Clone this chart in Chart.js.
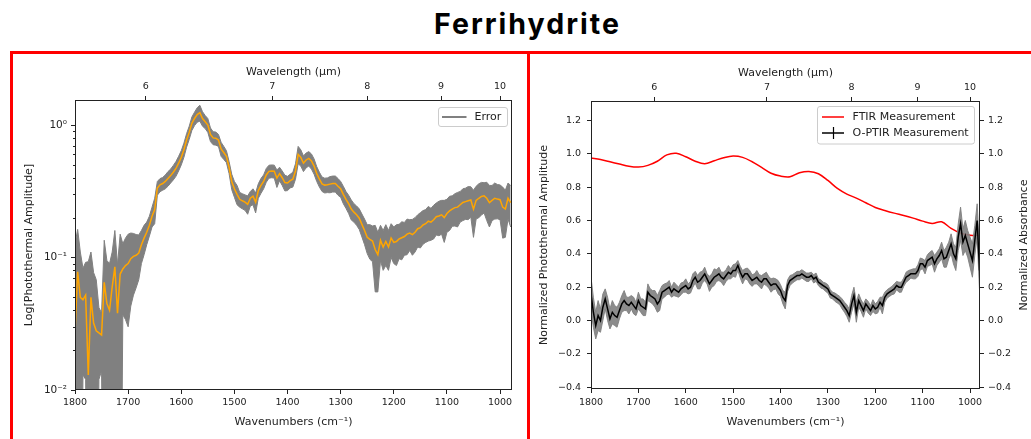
<!DOCTYPE html>
<html><head><meta charset="utf-8">
<script src="https://cdn.jsdelivr.net/npm/chart.js@4.4.1/dist/chart.umd.min.js"></script>
<style>
html,body{margin:0;padding:0;background:#fff;}
body{width:1031px;height:439px;position:relative;overflow:hidden;}
#title{position:absolute;left:12px;width:1031px;top:10px;text-align:center;font-family:Inter,'Noto Sans',sans-serif;font-weight:700;font-size:28.5px;line-height:28.5px;letter-spacing:2px;color:#000;}
canvas{position:absolute;top:0;}
.red{position:absolute;background:#ff0000;z-index:5;}
</style></head>
<body>
<div id="title">Ferrihydrite</div>
<canvas id="c1" width="525" height="439" style="left:0"></canvas>
<canvas id="c2" width="506" height="439" style="left:525px"></canvas>
<div class="red" style="left:10px;top:51px;width:1021px;height:3px"></div>
<div class="red" style="left:10px;top:51px;width:3px;height:388px"></div>
<div class="red" style="left:527px;top:51px;width:3px;height:388px"></div>
<script>
// ---------- DATA ----------
const wavenumbers = [
1800,1795,1790,1785,1780,1775,1770,1765,1760,1755,
1750,1745,1740,1735,1730,1725,1720,1715,1710,1705,
1700,1695,1690,1685,1680,1675,1670,1665,1660,1655,
1650,1645,1640,1635,1630,1625,1620,1615,1610,1605,
1600,1595,1590,1585,1580,1575,1570,1565,1560,1555,
1550,1545,1540,1535,1530,1525,1520,1515,1510,1505,
1500,1495,1490,1485,1480,1475,1470,1465,1460,1455,
1450,1445,1440,1435,1430,1425,1420,1415,1410,1405,
1400,1395,1390,1385,1380,1375,1370,1365,1360,1355,
1350,1345,1340,1335,1330,1325,1320,1315,1310,1305,
1300,1295,1290,1285,1280,1275,1270,1265,1260,1255,
1250,1245,1240,1235,1230,1225,1220,1215,1210,1205,
1200,1195,1190,1185,1180,1175,1170,1165,1160,1155,
1150,1145,1140,1135,1130,1125,1120,1115,1110,1105,
1100,1095,1090,1085,1080,1075,1070,1065,1060,1055,
1050,1045,1040,1035,1030,1025,1020,1015,1010,1005,
1000,995,990,985,980];

// Left panel: photothermal amplitude (log axis) and its error
const photothermalAmp = [
.027,.078,.050,.048,.052,.013,.050,.032,.028,.027,
.026,.065,.045,.040,.060,.085,.038,.075,.082,.087,
.090,.098,.102,.104,.108,.125,.140,.155,.175,.205,
.230,.335,.354,.362,.375,.395,.415,.440,.470,.515,
.570,.650,.770,.880,1.03,1.12,1.20,1.24,1.12,1.06,
1.00,.850,.800,.795,.770,.660,.620,.580,.480,.375,
.330,.300,.275,.268,.262,.252,.280,.290,.262,.320,
.350,.375,.420,.447,.450,.448,.398,.430,.400,.368,
.365,.380,.390,.450,.600,.570,.515,.545,.560,.535,
.490,.430,.390,.360,.352,.354,.358,.362,.362,.345,
.330,.300,.275,.255,.232,.220,.210,.198,.178,.160,
.142,.137,.133,.115,.105,.135,.120,.132,.120,.140,
.130,.132,.138,.141,.144,.150,.153,.149,.155,.165,
.168,.176,.180,.188,.185,.193,.203,.206,.210,.200,
.215,.225,.232,.238,.240,.250,.260,.264,.268,.272,
.232,.270,.280,.289,.292,.280,.260,.270,.280,.276,
.273,.240,.232,.280,.260];
const photothermalErr = [
.10,.085,.06,.035,.04,.08,.06,.045,.04,.015,
.012,.07,.05,.05,.05,.075,.05,.075,.045,.053,
.06,.055,.05,.045,.04,.035,.035,.03,.03,.035,
.05,.04,.04,.04,.045,.05,.05,.055,.06,.065,
.07,.08,.09,.10,.12,.13,.15,.17,.14,.12,
.12,.10,.09,.09,.08,.08,.07,.06,.05,.05,
.045,.05,.035,.035,.035,.04,.035,.04,.045,.04,
.045,.045,.05,.05,.05,.05,.06,.05,.05,.05,
.045,.045,.05,.06,.09,.08,.07,.07,.07,.07,
.065,.055,.05,.045,.045,.045,.05,.05,.05,.05,
.045,.045,.04,.04,.04,.035,.035,.035,.035,.035,
.035,.04,.04,.06,.05,.04,.04,.045,.04,.04,
.04,.045,.04,.045,.04,.045,.04,.045,.045,.045,
.05,.05,.05,.055,.05,.055,.055,.06,.06,.07,
.06,.065,.06,.065,.07,.065,.07,.07,.075,.07,
.09,.075,.08,.08,.075,.09,.09,.08,.085,.08,
.08,.10,.09,.085,.09];

// Right panel: O-PTIR measurement and its error
const optirValues = [
.16,.05,-.03,.03,.00,.08,.13,.07,.01,.05,
.03,.02,.06,.10,.12,.10,.09,.11,.09,.07,
.12,.09,.08,.07,.17,.15,.14,.13,.10,.12,
.17,.18,.19,.20,.17,.19,.18,.17,.19,.20,
.21,.19,.20,.24,.26,.23,.24,.26,.28,.25,
.22,.24,.26,.27,.28,.26,.25,.27,.29,.28,
.30,.30,.33,.29,.26,.28,.28,.26,.24,.25,
.26,.24,.23,.25,.25,.23,.21,.22,.22,.20,
.18,.14,.12,.21,.24,.25,.26,.27,.27,.28,
.27,.26,.26,.27,.25,.26,.23,.22,.21,.20,
.19,.16,.15,.14,.13,.12,.10,.08,.06,.03,
.10,.15,.05,.12,.09,.06,.10,.08,.06,.09,
.07,.08,.11,.09,.14,.16,.17,.18,.19,.21,
.20,.20,.23,.26,.27,.28,.28,.28,.30,.34,
.34,.32,.36,.37,.38,.34,.37,.39,.42,.37,
.38,.42,.46,.40,.37,.50,.58,.47,.51,.46,
.41,.36,.48,.60,.30];
const optirErr = [
.10,.09,.08,.09,.07,.08,.06,.07,.06,.07,
.06,.06,.05,.05,.06,.04,.05,.04,.05,.04,
.05,.04,.05,.04,.05,.04,.04,.05,.05,.06,
.04,.04,.035,.04,.03,.04,.035,.03,.035,.03,
.04,.03,.035,.04,.035,.04,.05,.035,.04,.03,
.045,.04,.05,.035,.04,.03,.04,.035,.04,.03,
.035,.04,.03,.035,.04,.03,.035,.04,.035,.03,
.04,.035,.04,.03,.04,.035,.04,.035,.03,.04,
.035,.04,.05,.035,.03,.025,.025,.025,.025,.025,
.025,.025,.025,.02,.025,.025,.02,.025,.02,.025,
.025,.025,.02,.025,.025,.025,.03,.03,.035,.04,
.05,.05,.06,.04,.035,.04,.03,.035,.03,.035,
.03,.035,.03,.05,.03,.025,.025,.025,.03,.025,
.03,.03,.025,.03,.03,.025,.03,.03,.035,.035,
.03,.04,.035,.04,.04,.05,.04,.04,.05,.05,
.06,.05,.06,.06,.07,.08,.10,.08,.09,.08,
.09,.10,.09,.10,.12];

// Right panel: FTIR measurement
const ftirWavenumbers = [1800,1780,1760,1740,1720,1700,1680,1660,1640,1620,1600,1580,1560,1540,1520,1500,1480,1460,1440,1420,1400,1380,1360,1340,1320,1300,1280,1260,1240,1220,1200,1180,1160,1140,1120,1100,1080,1060,1040,1020,1000,980];
const ftirValues = [.974,.965,.952,.938,.925,.920,.930,.955,.993,1.003,.982,.955,.940,.958,.976,.986,.978,.952,.918,.883,.866,.862,.886,.894,.880,.840,.792,.758,.734,.706,.678,.660,.644,.630,.614,.596,.582,.592,.552,.524,.512,.510];

// Ticks
const wavenumberTicks = [1800,1700,1600,1500,1400,1300,1200,1100,1000];
const wavelengthTicks = [6,7,8,9,10];
const logMajorTicks = [0.01,0.1,1];
const logMinorTicks = [0.02,0.03,0.04,0.05,0.06,0.07,0.08,0.09,0.2,0.3,0.4,0.5,0.6,0.7,0.8,0.9];
const logTickLabels = {'0.01':'10⁻²','0.1':'10⁻¹','1':'10⁰'};
const linearTicks = [-0.4,-0.2,0,0.2,0.4,0.6,0.8,1.0,1.2];

// ---------- RENDERING ----------
Chart.defaults.font.family = "'DejaVu Sans'";
Chart.defaults.font.size = 11;
Chart.defaults.color = '#222';
const TICKFONT = {family:"'DejaVu Sans'", size:9.5};
const LABELFONT = {family:"'DejaVu Sans'", size:11};
const INK = '#222';

const pts = (xs, ys) => xs.map((x,i)=>({x, y: ys[i]}));
const tickGrid = {display:true, drawOnChartArea:false, drawTicks:true, tickLength:4, tickColor:INK, tickWidth:1};
const fmtLin = v => (v < -1e-9 ? '−' : '') + Math.abs(v).toFixed(1);

const framePlugin = {
  id:'framePlugin',
  afterDatasetsDraw(chart, args, opts){
    const {ctx, chartArea:a} = chart;
    ctx.save();
    ctx.strokeStyle = INK; ctx.lineWidth = 1;
    if (opts.minor){
      const s = chart.scales[opts.minor.axis];
      opts.minor.values.forEach(v=>{
        const py = Math.round(s.getPixelForValue(v)) + 0.5;
        ctx.beginPath(); ctx.moveTo(a.left, py); ctx.lineTo(a.left - opts.minor.len, py); ctx.stroke();
      });
    }
    ctx.strokeRect(Math.round(a.left)+0.5, Math.round(a.top)+0.5, Math.round(a.right-a.left)-1, Math.round(a.bottom-a.top)-1);
    if (opts.rightTitle){
      ctx.save();
      ctx.translate(chart.width - opts.rightTitle.inset, (a.top + a.bottom)/2);
      ctx.rotate(-Math.PI/2);
      ctx.fillStyle = INK; ctx.font = "11px 'DejaVu Sans'"; ctx.textAlign = 'center'; ctx.textBaseline = 'middle';
      ctx.fillText(opts.rightTitle.text, 0, 0);
      ctx.restore();
    }
    ctx.restore();
  }
};

const mplLegend = {
  id:'mplLegend',
  afterDraw(chart, args, o){
    if (!o.items) return;
    const {ctx, chartArea:a} = chart;
    const x = Math.round(a.right - o.rightGap - o.width) + 0.5;
    const y = Math.round(a.top + o.topGap) + 0.5;
    ctx.save();
    const r = 2.5, w = o.width, h = o.height;
    ctx.beginPath();
    ctx.moveTo(x+r, y); ctx.lineTo(x+w-r, y); ctx.quadraticCurveTo(x+w, y, x+w, y+r);
    ctx.lineTo(x+w, y+h-r); ctx.quadraticCurveTo(x+w, y+h, x+w-r, y+h);
    ctx.lineTo(x+r, y+h); ctx.quadraticCurveTo(x, y+h, x, y+h-r);
    ctx.lineTo(x, y+r); ctx.quadraticCurveTo(x, y, x+r, y); ctx.closePath();
    ctx.fillStyle = 'rgba(255,255,255,0.8)'; ctx.fill();
    ctx.strokeStyle = '#cccccc'; ctx.lineWidth = 1; ctx.stroke();
    o.items.forEach((it, i)=>{
      const cy = Math.round(y + o.firstRow + i*o.rowH);
      ctx.strokeStyle = it.color; ctx.lineWidth = it.lw;
      ctx.beginPath(); ctx.moveTo(x + o.lineX0, cy); ctx.lineTo(x + o.lineX1, cy); ctx.stroke();
      if (it.bar){
        const mx = Math.round(x + (o.lineX0 + o.lineX1)/2) + 0.5;
        ctx.lineWidth = 1.2;
        ctx.beginPath(); ctx.moveTo(mx, cy - 6); ctx.lineTo(mx, cy + 6); ctx.stroke();
      }
      ctx.fillStyle = INK; ctx.font = "11px 'DejaVu Sans'"; ctx.textBaseline = 'middle'; ctx.textAlign = 'left';
      ctx.fillText(it.text, x + o.textX, cy + 0.5);
    });
    ctx.restore();
  }
};

// ----- Left chart -----
const leftLower = wavenumbers.map((x,i)=>({x, y: Math.max(photothermalAmp[i]-photothermalErr[i], 1e-4)}));
const leftUpper = wavenumbers.map((x,i)=>({x, y: photothermalAmp[i]+photothermalErr[i]}));
const L_XMIN = 977.5, L_XMAX = 1800;

new Chart(document.getElementById('c1'), {
  type:'line',
  data:{datasets:[
    {label:'mean', data: pts(wavenumbers, photothermalAmp), borderColor:'#ffa500', borderWidth:1.5, pointRadius:0, fill:false},
    {label:'lower', data: leftLower, borderColor:'#808080', borderWidth:1, pointRadius:0, fill:false},
    {label:'Error', data: leftUpper, borderColor:'#808080', borderWidth:1, backgroundColor:'#808080', pointRadius:0, fill:'-1'}
  ]},
  plugins:[framePlugin, mplLegend],
  options:{
    responsive:false, animation:false, devicePixelRatio:1,
    layout:{padding:{left:0, top:0, right:13, bottom:0}},
    elements:{line:{tension:0}},
    plugins:{
      legend:{display:false}, tooltip:{enabled:false},
      framePlugin:{minor:{axis:'y', values:logMinorTicks, len:2}},
      mplLegend:{items:[{text:'Error', color:'#808080', lw:2}], rightGap:5, width:69, topGap:7, height:19, firstRow:9.5, rowH:0, lineX0:3.5, lineX1:28, textX:36}
    },
    scales:{
      x:{type:'linear', position:'bottom', reverse:true, min:L_XMIN, max:L_XMAX,
         afterBuildTicks: s => { s.ticks = wavenumberTicks.map(v=>({value:v})); },
         ticks:{font:TICKFONT, color:INK, padding:3, maxRotation:0, callback: v => String(v)},
         grid:tickGrid, border:{display:false},
         title:{display:true, text:'Wavenumbers (cm⁻¹)', font:LABELFONT, color:INK, padding:{top:0,bottom:10.7}},
         afterFit: s => { s.height = 49; }},
      xTop:{type:'linear', position:'top', reverse:true, min:L_XMIN, max:L_XMAX,
         afterBuildTicks: s => { s.ticks = wavelengthTicks.map(l=>({value:10000/l})); },
         ticks:{font:TICKFONT, color:INK, padding:4, maxRotation:0, callback: v => String(Math.round(10000/v))},
         grid:tickGrid, border:{display:false},
         title:{display:true, text:'Wavelength (μm)', font:LABELFONT, color:INK, padding:{top:65.1,bottom:0}},
         afterFit: s => { s.height = 100; }},
      y:{type:'logarithmic', position:'left', min:0.01, max:1.545,
         afterBuildTicks: s => { s.ticks = logMajorTicks.map(v=>({value:v})); },
         ticks:{font:{family:"'DejaVu Sans'", size:10.5}, color:INK, padding:4, callback: v => logTickLabels[String(v)] || ''},
         grid:tickGrid, border:{display:false},
         title:{display:true, text:'Log[Photothermal Amplitude]', font:LABELFONT, color:INK, padding:{top:22.4,bottom:0}},
         afterFit: s => { s.width = 75; }}
    }
  }
});

// ----- Right chart -----
const rightLower = wavenumbers.map((x,i)=>({x, y: optirValues[i]-optirErr[i]}));
const rightUpper = wavenumbers.map((x,i)=>({x, y: optirValues[i]+optirErr[i]}));
const R_XMIN = 979, R_XMAX = 1800, R_YMIN = -0.41, R_YMAX = 1.316;

new Chart(document.getElementById('c2'), {
  type:'line',
  data:{datasets:[
    {label:'O-PTIR Measurement', data: pts(wavenumbers, optirValues), yAxisID:'y', borderColor:'#000000', borderWidth:1.5, pointRadius:0, fill:false},
    {label:'lo', data: rightLower, yAxisID:'y', borderColor:'rgba(128,128,128,0.9)', borderWidth:1, pointRadius:0, fill:false},
    {label:'hi', data: rightUpper, yAxisID:'y', borderColor:'rgba(128,128,128,0.9)', backgroundColor:'rgba(128,128,128,0.9)', borderWidth:1, pointRadius:0, fill:'-1'},
    {label:'FTIR Measurement', data: pts(ftirWavenumbers, ftirValues), yAxisID:'y2', borderColor:'#ff0000', borderWidth:1.5, pointRadius:0, fill:false, tension:0.35}
  ]},
  plugins:[framePlugin, mplLegend],
  options:{
    responsive:false, animation:false, devicePixelRatio:1,
    layout:{padding:0},
    elements:{line:{tension:0}},
    plugins:{
      legend:{display:false}, tooltip:{enabled:false},
      framePlugin:{rightTitle:{text:'Normalized Absorbance', inset:7}},
      mplLegend:{items:[{text:'FTIR Measurement', color:'#ff0000', lw:1.5},{text:'O-PTIR Measurement', color:'#000000', lw:1.5, bar:true}],
                 rightGap:6, width:157, topGap:5, height:37.5, firstRow:10, rowH:16.7, lineX0:4.5, lineX1:26.5, textX:35}
    },
    scales:{
      x:{type:'linear', position:'bottom', reverse:true, min:R_XMIN, max:R_XMAX,
         afterBuildTicks: s => { s.ticks = wavenumberTicks.map(v=>({value:v})); },
         ticks:{font:TICKFONT, color:INK, padding:4, maxRotation:0, callback: v => String(v)},
         grid:tickGrid, border:{display:false},
         title:{display:true, text:'Wavenumbers (cm⁻¹)', font:LABELFONT, color:INK, padding:{top:0,bottom:10.7}},
         afterFit: s => { s.height = 50; }},
      xTop:{type:'linear', position:'top', reverse:true, min:R_XMIN, max:R_XMAX,
         afterBuildTicks: s => { s.ticks = wavelengthTicks.map(l=>({value:10000/l})); },
         ticks:{font:TICKFONT, color:INK, padding:4, maxRotation:0, callback: v => String(Math.round(10000/v))},
         grid:tickGrid, border:{display:false},
         title:{display:true, text:'Wavelength (μm)', font:LABELFONT, color:INK, padding:{top:66.1,bottom:0}},
         afterFit: s => { s.height = 101; }},
      y:{type:'linear', position:'left', min:R_YMIN, max:R_YMAX,
         afterBuildTicks: s => { s.ticks = linearTicks.map(v=>({value:v})); },
         ticks:{font:TICKFONT, color:INK, padding:6, callback: fmtLin},
         grid:tickGrid, border:{display:false},
         title:{display:true, text:'Normalized Photothermal Amplitude', font:LABELFONT, color:INK, padding:{top:12.4,bottom:0}},
         afterFit: s => { s.width = 66; }},
      y2:{type:'linear', position:'right', min:R_YMIN, max:R_YMAX,
         afterBuildTicks: s => { s.ticks = linearTicks.map(v=>({value:v})); },
         ticks:{font:TICKFONT, color:INK, padding:4, callback: fmtLin},
         grid:tickGrid, border:{display:false},
         title:{display:false},
         afterFit: s => { s.width = 51; }}
    }
  }
});
</script>
</body></html>
